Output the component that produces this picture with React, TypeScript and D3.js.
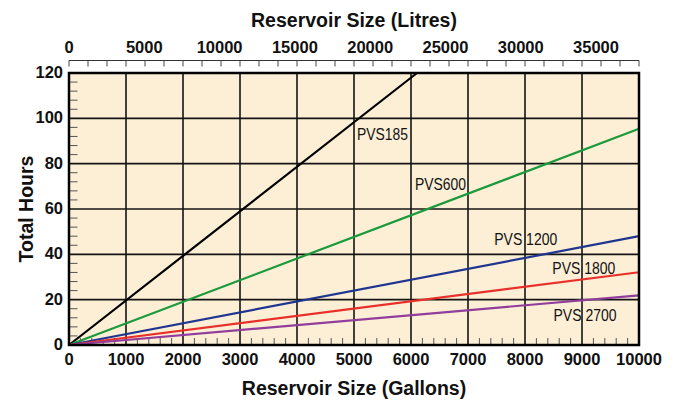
import React from "react";
import * as d3 from "d3";

const seriesNames = ["PVS185", "PVS600", "PVS 1200", "PVS 1800", "PVS 2700"];
const seriesColors = ["#000000", "#1a9a3c", "#1f3590", "#e8302a", "#903d9c"];
const seriesEndGallons = [6105, 10000, 10000, 10000, 10000];
const seriesEndHours = [120, 95.4, 48, 32.1, 21.9];
const labelGallons = [5053, 6070, 7460, 8480, 8500];
const labelHours = [90.4, 68.4, 43.9, 31.5, 10.8];
const gallonTicks = [0, 1000, 2000, 3000, 4000, 5000, 6000, 7000, 8000, 9000, 10000];
const litreTicks = [0, 5000, 10000, 15000, 20000, 25000, 30000, 35000];
const hourTicks = [0, 20, 40, 60, 80, 100, 120];

const W = 679, H = 400;
const L = 69, R = 639, T = 73, B = 345;
const LITRES_PER_GALLON = 3.78541;

export default function App() {
  const x = d3.scaleLinear().domain([0, 10000]).range([L, R]);
  const xl = d3.scaleLinear().domain([0, 10000 * LITRES_PER_GALLON]).range([L, R]);
  const y = d3.scaleLinear().domain([0, 120]).range([B, T]);
  const line = d3.line<[number, number]>().x(d => x(d[0])).y(d => y(d[1]));
  const minorY = d3.range(0, 121, 4).filter(v => v % 20 !== 0);
  const minorX = d3.range(0, 10001, 200).filter(v => v % 1000 !== 0);
  const topTicks = d3.range(0, 31).map(i => (i * 10000) / 30);
  const font = "Liberation Sans, Arial, Helvetica, sans-serif";
  const labelLens = [51, 51, 63, 63, 63];

  return (
    <svg width={W} height={H} style={{ position: "absolute", left: 0, top: 0 }} fontFamily={font}>
      <rect x={0} y={0} width={W} height={H} fill="#ffffff" />
      <rect x={L} y={T} width={R - L} height={B - T} fill="#fdefd6" />
      {/* top axis */}
      <line x1={L} x2={R} y1={60.5} y2={60.5} stroke="#333" strokeWidth={1} />
      {topTicks.map((g, i) => (
        <line key={"tt" + i} x1={x(g)} x2={x(g)} y1={60.5} y2={66.5} stroke="#444" strokeWidth={1} />
      ))}
      {litreTicks.map(v => (
        <text key={"lt" + v} x={xl(v)} y={53} textAnchor="middle" fontSize={16.5} fontWeight="bold" fill="#111">
          {v}
        </text>
      ))}
      <text x={354} y={27} textAnchor="middle" fontSize={19.5} fontWeight="bold" fill="#111">
        Reservoir Size (Litres)
      </text>
      {/* minor ticks */}
      {minorY.map(v => (
        <line key={"my" + v} x1={L} x2={L + 8.5} y1={y(v)} y2={y(v)} stroke="#555" strokeWidth={1} />
      ))}
      {minorX.map(v => (
        <line key={"mx" + v} x1={x(v)} x2={x(v)} y1={B} y2={B - 7} stroke="#555" strokeWidth={1} />
      ))}
      {/* grid */}
      {gallonTicks.slice(1, -1).map(v => (
        <line key={"gx" + v} x1={x(v)} x2={x(v)} y1={T} y2={B} stroke="#141414" strokeWidth={1.6} />
      ))}
      {hourTicks.slice(1, -1).map(v => (
        <line key={"gy" + v} x1={L} x2={R} y1={y(v)} y2={y(v)} stroke="#141414" strokeWidth={1.6} />
      ))}
      {/* series */}
      {seriesNames.map((n, i) => (
        <path
          key={n}
          d={line([[0, 0], [seriesEndGallons[i], seriesEndHours[i]]]) || ""}
          fill="none"
          stroke={seriesColors[i]}
          strokeWidth={2.2}
        />
      ))}
      {seriesNames.map((n, i) => (
        <text
          key={"lab" + n}
          x={x(labelGallons[i])}
          y={y(labelHours[i])}
          fontSize={16.5}
          fill="#111"
          textLength={labelLens[i]}
          lengthAdjust="spacingAndGlyphs"
        >
          {n}
        </text>
      ))}
      {/* border */}
      <rect x={L} y={T} width={R - L} height={B - T} fill="none" stroke="#000" strokeWidth={2.5} />
      {/* bottom axis labels */}
      {gallonTicks.map(v => (
        <text key={"bx" + v} x={x(v)} y={365} textAnchor="middle" fontSize={16.5} fontWeight="bold" fill="#111">
          {v}
        </text>
      ))}
      <text x={354} y={395} textAnchor="middle" fontSize={19.5} fontWeight="bold" fill="#111">
        Reservoir Size (Gallons)
      </text>
      {/* y axis labels */}
      {hourTicks.map(v => (
        <text key={"yl" + v} x={63} y={y(v) + 5} textAnchor="end" fontSize={16.5} fontWeight="bold" fill="#111">
          {v}
        </text>
      ))}
      <text transform="translate(33,209) rotate(-90)" textAnchor="middle" fontSize={19.5} fontWeight="bold" fill="#111">
        Total Hours
      </text>
    </svg>
  );
}
